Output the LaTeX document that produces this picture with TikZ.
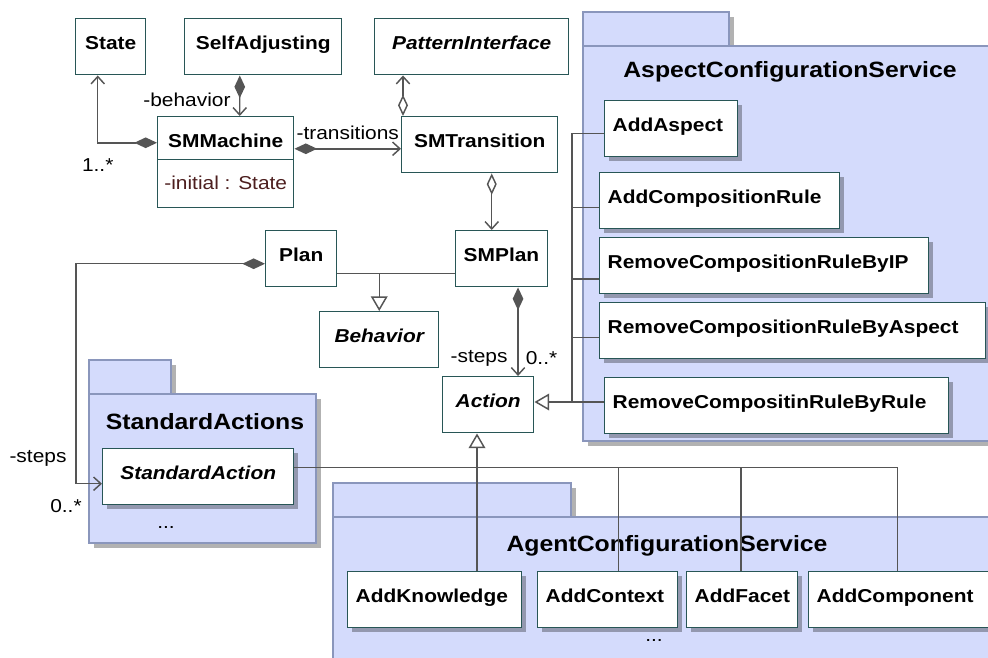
\documentclass[tikz,border=0pt]{standalone}
\usepackage{fontspec}
\setmainfont{Liberation Sans}[FakeStretch=1.12]
\usetikzlibrary{arrows.meta,positioning,shadows}
\definecolor{clsline}{HTML}{285656}
\definecolor{pkgfill}{HTML}{D4DBFC}
\definecolor{pkgline}{HTML}{8A96BC}
\definecolor{linecol}{HTML}{555555}
\definecolor{attrcol}{HTML}{4D1F1F}
\newcommand{\ClsFont}{\fontsize{14pt}{16pt}\selectfont\bfseries}
\newcommand{\LblFont}{\fontsize{14pt}{16pt}\selectfont}
\newcommand{\PkgFont}{\fontsize{16.6pt}{19pt}\selectfont\bfseries}
\tikzset{
  classbox/.style={draw=clsline, fill=white, line width=1.1pt, font=\ClsFont,
    inner xsep=6pt, inner ysep=0pt, text height=23pt, text depth=19pt, anchor=north west},
  cls/.style={classbox, minimum width=#1},
  member/.style={classbox, boxshadow, text width=#1-12pt, align=left},
  boxshadow/.style={drop shadow={shadow xshift=3.5pt, shadow yshift=-3.5pt, fill=black, opacity=.3}},
  pkg/.style={draw=pkgline, fill=pkgfill, line width=0.9pt, boxshadow},
  pkgtitle/.style={font=\PkgFont, inner sep=0pt},
  link/.style={draw=linecol, line width=1.1pt},
  comp/.style={link, arrows={Diamond[length=17pt,width=8pt]-Straight Barb[length=5.5pt,width=10pt]}},
  aggr/.style={link, arrows={Diamond[open,length=16pt,width=7.5pt]-Straight Barb[length=5.5pt,width=10pt]}},
  gen/.style={link, arrows={-Triangle[open,length=11pt,width=12.5pt]}}
}
\begin{document}
\begin{tikzpicture}[x=0.75pt, y=-0.75pt, font=\LblFont]
  \path[use as bounding box, clip] (0,0) rectangle (988,657);

  % packages: tab first, then the body under it
  \foreach \x/\y/\tw/\bw/\bh in {583/12/146/420/395, 89/360/82/227/149, 333/483/238/680/190} {
    \draw[pkg] (\x,\y) rectangle ++(\tw,34);
    \draw[pkg] (\x,\y+34) rectangle ++(\bw,\bh);
  }
  \node[pkgtitle] (aspecttitle) at (790,72) {AspectConfigurationService};
  \node[pkgtitle] (stdtitle) at (205,422) {StandardActions};
  \node[pkgtitle] (agenttitle) at (667,546) {AgentConfigurationService};
  \node (stdmore) at (166,527) {...};
  \node (agentmore) at (654,640) {...};

  % state machine classes
  \node[cls=52.5pt] (state) at (75,18) {State};
  \node[cls=117.75pt] (selfadj) at (184,18) {SelfAdjusting};
  \node[cls=145.5pt, font=\ClsFont\itshape] (pattern) at (374,18) {PatternInterface};
  \node[cls=102pt, text depth=9.25pt] (smm) at (157,116) {SMMachine};
  \node[cls=102pt, below=-1.1pt of smm, font=\LblFont, text=attrcol, inner xsep=2pt,
    text height=22.25pt, text depth=13.75pt] (smmattr) {-initial : State};
  \node[cls=117pt] (smtrans) at (401,116) {SMTransition};
  \node[cls=53.25pt] (plan) at (265,230) {Plan};
  \node[cls=68.25pt] (smplan) at (455,230) {SMPlan};
  \node[cls=89.25pt, font=\ClsFont\itshape] (behavior) at (319,311) {Behavior};
  \node[cls=68.25pt, font=\ClsFont\itshape] (action) at (442,376) {Action};

  % package members
  \node[member=99.75pt] (addaspect) at (604,100) {AddAspect};
  \node[member=180pt] (addrule) at (599,172) {AddCompositionRule};
  \node[member=246.75pt] (rmbyip) at (599,237) {RemoveCompositionRuleByIP};
  \node[member=289.5pt] (rmbyaspect) at (599,302) {RemoveCompositionRuleByAspect};
  \node[member=258pt] (rmbyrule) at (604,377) {RemoveCompositinRuleByRule};
  \node[cls=143.25pt, boxshadow, font=\ClsFont\itshape] (stdaction) at (102,448) {StandardAction};
  \node[member=130.5pt] (addknow) at (347,571) {AddKnowledge};
  \node[member=105pt] (addctx) at (537,571) {AddContext};
  \node[member=83.25pt] (addfacet) at (686,571) {AddFacet};
  \node[member=142.5pt] (addcomp) at (808,571) {AddComponent};

  % associations
  \draw[comp] ([yshift=-3.4pt]smm.west) -| ([xshift=-9.75pt]state.south)
    node[pos=0.5, yshift=-17pt] {1..*};
  \draw[comp] ([xshift=-17.6pt]selfadj.south) -- ([xshift=10.5pt]smm.north)
    node[pos=0.6, left=3pt] {-behavior};
  \draw[comp] ([yshift=-7.9pt]smm.east) -- ([yshift=-7.9pt]smm.east -| smtrans.west)
    node[midway, yshift=12pt] {-transitions};
  \draw[aggr] ([xshift=1.5pt]smtrans.north west) -- ([xshift=1.5pt]smtrans.north west |- pattern.south);
  \draw[aggr] ([xshift=9pt]smtrans.south) -- ([xshift=9pt]smtrans.south |- smplan.north);
  \draw[comp] ([yshift=-3.75pt]plan.west) -- ++(-189,0) |- ([yshift=-5.25pt]stdaction.west)
    node[pos=0.5, xshift=-28.5pt, yshift=19pt] {-steps}
    node[pos=0.5, xshift=-7.5pt, yshift=-17pt] {0..*};
  \draw[comp] ([xshift=12.4pt]smplan.south) -- ([xshift=12.4pt]smplan.south |- action.north)
    node[pos=0.8, left=4pt] {-steps} node[pos=0.8, right=2pt] {0..*};

  % generalizations
  \draw[link] ([yshift=-11.25pt]plan.east) -- ([yshift=-11.25pt]plan.east -| smplan.west);
  \draw[gen] ([yshift=-11.25pt]plan.east -| behavior.north) -- (behavior.north);

  \coordinate (asbus) at (572,402);
  \foreach \nm/\dy in {addaspect/-3.4pt, addrule/-5.25pt, rmbyip/-10.1pt, rmbyaspect/-5.25pt}
    \draw[link] ([yshift=\dy]\nm.west) -| (asbus);
  \draw[gen] (asbus -| rmbyrule.west) -- (asbus -| action.east);

  \coordinate (agbus) at (477,467);
  \draw[link] ([yshift=6.75pt]stdaction.east) -| ([xshift=-4.5pt]addcomp.north);
  \foreach \nm/\dx in {addctx/8.25pt, addfacet/-1.1pt}
    \draw[link] ([xshift=\dx]\nm.north) -- ([xshift=\dx]\nm.north |- agbus);
  \draw[gen] (agbus |- addknow.north) -- (agbus |- action.south);
\end{tikzpicture}
\end{document}
